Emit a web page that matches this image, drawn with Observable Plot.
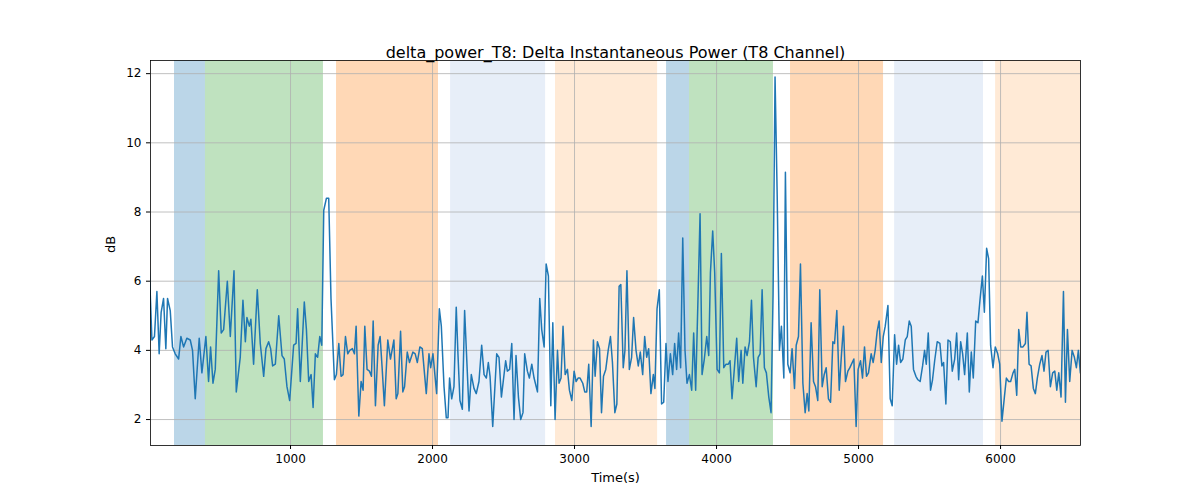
<!DOCTYPE html>
<html><head><meta charset="utf-8">
<script src="https://cdn.jsdelivr.net/npm/d3@7"></script>
<script src="https://cdn.jsdelivr.net/npm/@observablehq/plot@0.6"></script>
<style>body{margin:0;background:#fff}</style>
</head><body><div id="chart"></div>
<script>
const title = "delta_power_T8: Delta Instantaneous Power (T8 Channel)";
const xLabel = "Time(s)";
const yLabel = "dB";
const bandStarts = [183, 401, 1324, 2127, 2866, 3648, 3810, 4521, 5254, 5965];
const bandEnds   = [401, 1232, 2042, 2796, 3585, 3810, 4401, 5176, 5880, 6563];
const bandColors = ["#1f77b4","#2ca02c","#ff7f0e","#aec7e8","#ffbb78","#1f77b4","#2ca02c","#ff7f0e","#aec7e8","#ffbb78"];
const xTicks = [1000,2000,3000,4000,5000,6000];
const yTicks = [2,4,6,8,10,12];
const series = [[0,7.0],[24,4.3],[42,4.4],[59,5.7],[75,3.9],[89,5.1],[106,5.5],[122,4.05],[134,5.5],[153,5.15],[169,4.1],[188,3.9],[212,3.75],[228,4.4],[247,4.1],[270,4.35],[294,4.3],[310,4.0],[329,2.6],[357,4.35],[376,3.35],[404,4.4],[423,3.1],[437,4.1],[454,3.05],[470,3.45],[494,6.3],[512,4.5],[529,4.6],[555,6.0],[576,4.4],[602,6.3],[618,2.8],[646,3.8],[665,5.45],[682,4.25],[693,4.95],[710,4.7],[721,4.9],[740,3.6],[766,5.75],[787,4.2],[811,3.25],[827,4.05],[846,4.25],[860,4.05],[874,3.55],[893,3.6],[917,5.0],[940,3.85],[956,3.75],[975,2.95],[994,2.55],[1022,4.15],[1039,4.2],[1050,5.2],[1069,3.1],[1097,5.4],[1112,4.6],[1128,3.1],[1145,3.3],[1159,2.35],[1175,3.9],[1191,3.8],[1206,4.4],[1220,4.15],[1234,8.05],[1253,8.4],[1269,8.4],[1285,5.5],[1309,3.15],[1323,3.3],[1340,4.2],[1356,3.25],[1370,3.3],[1387,4.4],[1403,3.9],[1417,4.0],[1436,4.05],[1450,3.9],[1462,4.7],[1481,2.1],[1497,3.1],[1511,2.85],[1523,4.7],[1539,3.45],[1556,3.4],[1570,3.25],[1582,4.85],[1598,2.4],[1617,4.15],[1631,4.4],[1645,3.5],[1661,2.4],[1685,4.3],
[1704,3.75],[1728,4.3],[1744,2.6],[1756,2.75],[1775,4.55],[1791,2.8],[1803,2.95],[1822,3.95],[1838,3.65],[1862,3.95],[1878,3.9],[1893,3.65],[1911,4.1],[1928,4.05],[1956,2.75],[1975,3.9],[1987,3.5],[2003,3.9],[2029,2.75],[2048,5.2],[2062,4.7],[2081,2.95],[2097,2.05],[2109,2.05],[2120,3.2],[2135,2.6],[2151,2.95],[2167,5.25],[2179,3.9],[2193,2.55],[2210,2.3],[2226,5.15],[2257,2.25],[2273,3.3],[2292,2.9],[2308,2.75],[2327,3.1],[2346,4.15],[2363,3.3],[2379,3.2],[2393,3.65],[2405,3.25],[2424,1.8],[2452,3.9],[2468,3.8],[2485,2.65],[2515,3.7],[2527,3.4],[2543,3.45],[2558,4.2],[2574,2.0],[2588,3.85],[2605,2.65],[2621,2.0],[2637,2.2],[2649,3.9],[2668,3.4],[2682,3.2],[2699,3.6],[2715,3.2],[2739,2.8],[2755,5.5],[2769,4.6],[2786,4.1],[2800,6.5],[2816,6.15],[2833,2.4],[2847,4.8],[2863,2.0],[2880,4.0],[2891,3.05],[2905,3.2],[2919,4.7],[2934,3.3],[2950,3.45],[2964,2.85],[2981,2.55],[2997,3.4],[3011,3.1],[3025,3.2],[3039,3.2],[3058,3.05],[3072,2.8],[3086,2.8],[3100,3.6],[3117,1.8],[3133,4.3],[3145,3.25],[3161,4.25],[3176,4.05],[3190,2.2],[3204,3.25],[3220,3.45],[3237,4.0],[3253,4.4],[3267,3.65],[3284,2.2],[3298,2.45],[3314,5.85],[3326,5.9],
[3343,3.5],[3355,4.0],[3369,6.3],[3386,3.45],[3402,3.8],[3416,4.95],[3433,4.0],[3449,3.55],[3463,3.95],[3480,3.3],[3494,4.4],[3508,3.8],[3522,4.05],[3538,2.75],[3555,3.3],[3566,2.9],[3581,5.2],[3597,5.75],[3613,2.45],[3628,2.5],[3644,4.2],[3658,3.1],[3675,3.9],[3691,3.3],[3705,4.2],[3719,3.45],[3733,4.5],[3747,3.5],[3762,7.25],[3778,4.0],[3792,3.05],[3809,3.3],[3825,2.85],[3839,4.5],[3853,2.85],[3870,5.6],[3884,7.95],[3898,3.3],[3914,3.75],[3931,4.4],[3945,3.85],[3957,6.25],[3973,7.45],[3987,6.25],[4004,3.45],[4020,3.35],[4034,6.8],[4051,3.5],[4067,3.6],[4083,3.6],[4095,3.7],[4109,2.6],[4126,3.5],[4142,4.35],[4156,3.1],[4173,4.0],[4185,3.05],[4201,4.1],[4215,3.85],[4232,4.25],[4246,5.45],[4260,3.8],[4279,2.95],[4293,3.8],[4307,3.9],[4321,5.75],[4337,3.5],[4351,3.35],[4368,2.65],[4384,2.2],[4398,5.6],[4412,11.9],[4427,8.5],[4443,4.0],[4457,4.7],[4474,3.2],[4485,9.15],[4502,3.6],[4518,3.35],[4532,4.05],[4549,2.9],[4561,4.15],[4577,4.4],[4591,6.5],[4608,3.05],[4624,2.2],[4638,2.75],[4650,2.25],[4666,4.8],[4683,3.1],[4697,2.95],[4713,2.55],[4727,5.75],[4744,2.95],[4758,3.3],[4772,3.5],[4788,2.6],[4803,2.5],[4819,4.25],[4831,4.2],[4847,5.15],[4864,2.85],[4880,3.9],[4894,4.7],[4908,3.1],[4925,3.4],[4939,3.5],
[4967,3.75],[4983,1.8],[4997,3.45],[5014,3.7],[5028,3.2],[5042,4.1],[5056,3.25],[5070,3.35],[5089,3.9],[5103,3.65],[5117,4.0],[5131,4.55],[5145,4.85],[5160,3.65],[5174,4.4],[5188,4.7],[5207,5.3],[5223,2.6],[5237,2.4],[5254,4.45],[5268,3.6],[5282,4.15],[5296,3.65],[5312,3.75],[5329,4.3],[5343,4.4],[5357,4.85],[5371,4.7],[5387,3.45],[5404,3.25],[5418,3.15],[5434,3.1],[5451,3.55],[5465,4.0],[5477,3.6],[5491,4.5],[5507,2.85],[5521,3.15],[5536,3.7],[5554,4.25],[5573,4.2],[5587,3.55],[5599,3.65],[5615,2.45],[5630,4.3],[5646,4.25],[5660,3.4],[5677,3.75],[5691,4.5],[5705,3.15],[5719,4.25],[5733,3.9],[5747,3.3],[5766,4.5],[5780,2.8],[5794,3.95],[5808,3.2],[5825,4.85],[5841,4.8],[5855,5.45],[5872,6.15],[5886,5.1],[5902,6.95],[5916,6.65],[5930,4.15],[5947,3.5],[5963,4.1],[5980,3.9],[5994,3.6],[6010,1.95],[6027,2.65],[6041,3.2],[6057,3.1],[6071,3.1],[6088,3.35],[6100,3.45],[6114,2.7],[6128,4.6],[6142,4.1],[6158,4.1],[6175,4.2],[6186,5.1],[6201,3.6],[6215,3.55],[6231,2.9],[6245,2.75],[6259,3.2],[6276,3.6],[6292,3.85],[6306,3.4],[6320,3.95],[6335,4.0],[6351,2.95],[6367,3.35],[6382,3.4],[6396,2.85],[6410,3.35],[6426,2.65],[6443,5.7],[6457,2.5],[6471,4.6],[6487,3.1],[6504,4.0],[6520,3.8],[6534,3.5],[6548,4.0],[6562,3.35]];

const bands = bandStarts.map((s,i)=>({x1:s,x2:bandEnds[i],c:bandColors[i]}));
const pts = series.map(([t,v])=>({t,v}));
const chart = Plot.plot({
  width:1200, height:500,
  marginLeft:150, marginRight:120, marginTop:60, marginBottom:55,
  style:{fontFamily:"DejaVu Sans", fontSize:"12px", color:"#000", background:"#fff"},
  x:{domain:[14,6563], ticks:xTicks, tickSize:4, label:null, tickFormat:d=>String(d)},
  y:{domain:[1.25,12.38], ticks:yTicks, tickSize:4, label:null},
  marks:[
    Plot.rectX(bands,{x1:"x1",x2:"x2",fill:d=>d.c,fillOpacity:0.3,clip:true}),
    Plot.ruleX(xTicks,{stroke:"#b0b0b0",strokeWidth:0.8}),
    Plot.ruleY(yTicks,{stroke:"#b0b0b0",strokeWidth:0.8}),
    Plot.line(pts,{x:"t",y:"v",stroke:"#1f77b4",strokeWidth:1.5,clip:true}),
    Plot.frame({stroke:"#000",strokeWidth:0.8}),
    Plot.text([title],{frameAnchor:"top",dy:-14,fontSize:16,fill:"#000"}),
    Plot.text([xLabel],{frameAnchor:"bottom",dy:36,fontSize:13,fill:"#000"}),
    Plot.text([yLabel],{frameAnchor:"left",dx:-40,rotate:-90,fontSize:13,fill:"#000"})
  ]
});
document.getElementById("chart").appendChild(chart);
</script></body></html>
